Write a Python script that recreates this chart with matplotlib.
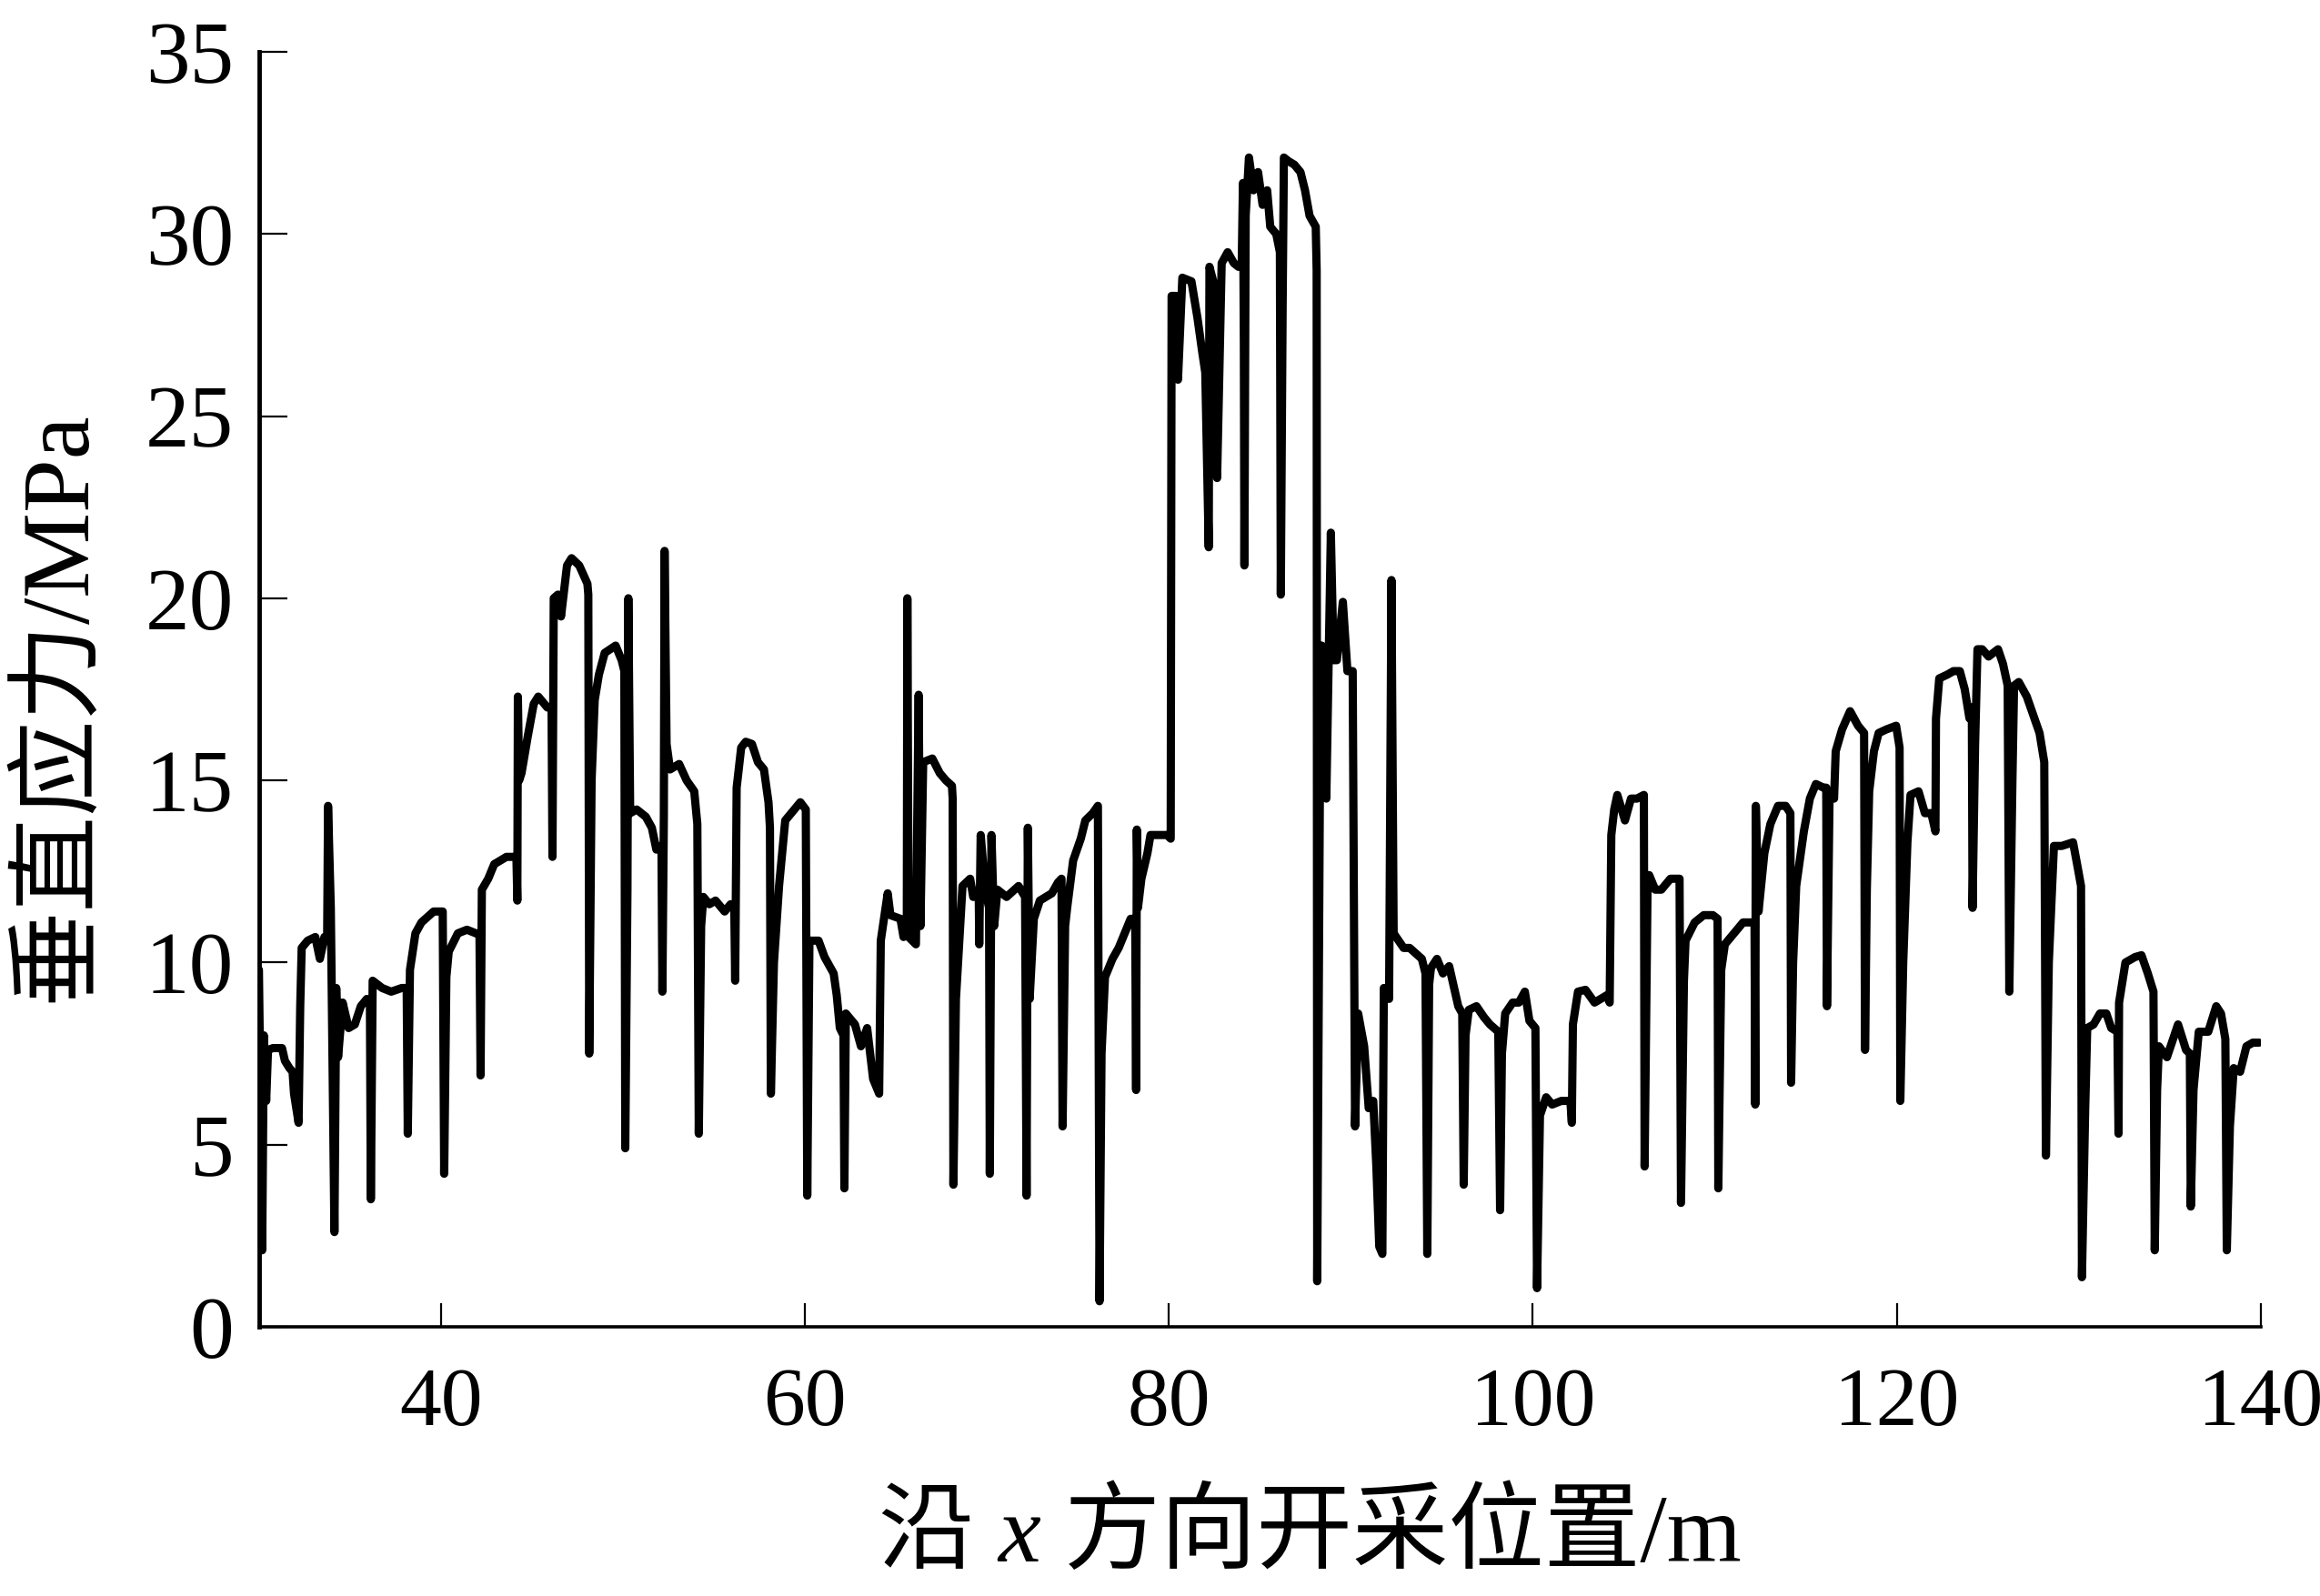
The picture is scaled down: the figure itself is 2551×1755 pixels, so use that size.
import matplotlib
matplotlib.use("Agg")
import matplotlib.pyplot as plt
from matplotlib.offsetbox import TextArea, HPacker, AnchoredOffsetbox

# Mining position along x (m) and vertical stress (MPa)
position_m = [
    30.0, 30.08, 30.18, 30.27, 30.4, 30.5, 30.77, 31.27, 31.43, 31.68,
    31.85, 31.93, 32.18, 32.27, 32.35, 32.68, 33.1, 33.35, 33.6, 33.75,
    33.8, 33.95, 34.15, 34.25, 34.35, 34.6, 34.93, 35.27, 35.6, 35.93,
    36.1, 36.15, 36.25, 36.77, 37.27, 37.85, 38.12, 38.18, 38.3, 38.6,
    38.93, 39.6, 40.1, 40.18, 40.3, 40.43, 40.93, 41.43, 41.93, 42.12,
    42.18, 42.25, 42.6, 42.93, 43.6, 43.93, 44.15, 44.2, 44.23, 44.3,
    44.43, 44.77, 45.1, 45.35, 45.85, 46.08, 46.13, 46.2, 46.43, 46.6,
    46.93, 47.18, 47.6, 48.05, 48.1, 48.15, 48.28, 48.45, 48.68, 49.0,
    49.6, 49.93, 50.08, 50.13, 50.25, 50.3, 50.4, 50.76, 51.26, 51.59,
    51.84, 52.12, 52.17, 52.25, 52.29, 52.4, 52.59, 53.09, 53.5, 53.92,
    54.09, 54.17, 54.3, 54.42, 54.75, 55.09, 55.59, 55.92, 56.12, 56.17,
    56.25, 56.5, 56.75, 57.09, 57.42, 57.75, 58.0, 58.08, 58.13, 58.3,
    58.58, 58.92, 59.42, 59.75, 60.05, 60.13, 60.25, 60.75, 61.08, 61.58,
    61.75, 61.92, 62.12, 62.17, 62.25, 62.75, 63.08, 63.42, 63.75, 64.08,
    64.17, 64.55, 64.7, 65.25, 65.42, 65.6, 65.63, 65.7, 66.1, 66.25,
    66.35, 66.5, 67.0, 67.41, 67.75, 68.08, 68.12, 68.16, 68.3, 68.66,
    69.08, 69.25, 69.55, 69.58, 69.66, 69.91, 70.12, 70.16, 70.25, 70.4,
    70.58, 71.08, 71.74, 72.1, 72.18, 72.25, 72.35, 72.58, 72.91, 73.24,
    73.57, 73.91, 74.1, 74.16, 74.3, 74.41, 74.74, 75.16, 75.41, 75.82,
    76.1, 76.19, 76.3, 76.49, 76.9, 77.24, 77.57, 77.9, 78.15, 78.2,
    78.24, 78.3, 78.49, 78.82, 78.99, 79.4, 79.9, 80.1, 80.15, 80.4,
    80.5, 80.74, 81.24, 81.57, 81.82, 82.0, 82.19, 82.23, 82.49, 82.65,
    82.9, 83.23, 83.57, 83.82, 84.0, 84.07, 84.12, 84.15, 84.22, 84.4,
    84.65, 84.9, 85.15, 85.4, 85.57, 85.9, 86.1, 86.15, 86.25, 86.32,
    86.57, 86.9, 87.23, 87.48, 87.73, 88.07, 88.12, 88.15, 88.3, 88.4,
    88.65, 88.9, 89.05, 89.23, 89.56, 89.81, 90.1, 90.23, 90.4, 90.73,
    90.98, 91.23, 91.4, 91.56, 91.73, 91.81, 92.1, 92.23, 92.35, 92.9,
    93.23, 93.9, 94.1, 94.2, 94.3, 94.4, 94.73, 95.06, 95.4, 95.9,
    96.12, 96.2, 96.3, 96.48, 96.9, 97.31, 97.64, 98.1, 98.2, 98.3,
    98.48, 98.89, 99.23, 99.56, 99.81, 100.14, 100.23, 100.39, 100.73, 101.06,
    101.56, 102.06, 102.14, 102.2, 102.48, 102.89, 103.39, 104.06, 104.22, 104.31,
    104.47, 104.64, 105.06, 105.39, 105.72, 106.1, 106.14, 106.3, 106.39, 106.72,
    107.06, 107.56, 108.06, 108.14, 108.3, 108.39, 108.89, 109.39, 109.89, 110.15,
    110.19, 110.35, 110.55, 111.05, 111.55, 111.97, 112.18, 112.22, 112.25, 112.4,
    112.72, 113.05, 113.47, 113.89, 114.15, 114.19, 114.3, 114.47, 114.89, 115.22,
    115.55, 115.97, 116.12, 116.16, 116.3, 116.55, 116.64, 116.99, 117.43, 117.87,
    118.2, 118.25, 118.35, 118.48, 118.74, 119.0, 119.43, 119.96, 120.15, 120.19,
    120.35, 120.58, 120.75, 121.19, 121.54, 121.89, 122.12, 122.15, 122.33, 122.76,
    123.11, 123.46, 123.73, 123.99, 124.12, 124.16, 124.3, 124.43, 124.69, 125.04,
    125.56, 125.83, 126.09, 126.18, 126.35, 126.44, 126.7, 127.14, 127.49, 127.84,
    128.1, 128.19, 128.35, 128.63, 129.06, 129.68, 129.94, 130.12, 130.17, 130.35,
    130.46, 130.81, 131.16, 131.51, 131.78, 132.12, 132.18, 132.21, 132.56, 133.09,
    133.44, 133.79, 134.1, 134.17, 134.3, 134.4, 134.84, 135.45, 135.89, 136.1,
    136.15, 136.3, 136.59, 137.11, 137.55, 137.81, 138.05, 138.13, 138.3, 138.51,
    138.86, 139.21, 139.56, 139.9,
]

stress_mpa = [
    9.8, 6.5, 2.1, 8.0, 6.2, 7.6, 7.65, 7.65, 7.3, 7.1,
    7.0, 6.4, 5.6, 8.8, 10.4, 10.6, 10.7, 10.1, 10.7, 10.7,
    14.3, 11.5, 2.6, 9.3, 7.4, 8.9, 8.2, 8.3, 8.8, 9.0,
    8.9, 3.5, 9.5, 9.3, 9.2, 9.3, 9.3, 5.3, 9.8, 10.8,
    11.1, 11.4, 11.4, 4.2, 9.6, 10.3, 10.8, 10.9, 10.8, 10.8,
    6.9, 12.0, 12.3, 12.7, 12.9, 12.9, 12.9, 11.7, 17.3, 15.0,
    15.2, 16.2, 17.1, 17.3, 17.0, 17.0, 12.9, 20.0, 20.1, 19.5,
    20.9, 21.1, 20.9, 20.4, 20.1, 7.5, 15.0, 17.2, 17.9, 18.5,
    18.7, 18.3, 18.0, 4.9, 12.0, 20.0, 14.1, 14.2, 14.0, 13.7,
    13.1, 13.2, 9.2, 14.0, 21.3, 16.0, 15.3, 15.45, 15.0, 14.7,
    13.8, 5.3, 11.0, 11.8, 11.6, 11.7, 11.4, 11.6, 11.5, 9.5,
    14.8, 15.9, 16.06, 16.0, 15.5, 15.3, 14.4, 13.7, 6.4, 10.0,
    12.1, 13.9, 14.2, 14.4, 14.2, 3.6, 10.6, 10.6, 10.15, 9.7,
    9.1, 8.2, 8.0, 3.8, 8.6, 8.3, 7.7, 8.2, 6.8, 6.4,
    10.6, 11.9, 11.3, 11.2, 10.7, 11.0, 20.0, 10.7, 10.5, 17.35,
    11.0, 15.5, 15.6, 15.2, 15.0, 14.85, 14.5, 3.9, 9.0, 12.1,
    12.3, 11.8, 12.0, 10.5, 13.5, 12.0, 11.5, 4.2, 13.5, 11.0,
    12.0, 11.8, 12.1, 11.8, 3.6, 13.7, 9.0, 11.2, 11.7, 11.8,
    11.9, 12.2, 12.3, 5.5, 11.0, 11.5, 12.8, 13.4, 13.9, 14.1,
    14.3, 0.7, 7.5, 9.6, 10.1, 10.4, 10.8, 11.2, 11.2, 6.5,
    13.65, 11.5, 12.3, 13.0, 13.5, 13.5, 13.5, 13.4, 28.3, 28.3,
    26.0, 28.8, 28.7, 27.7, 26.8, 26.2, 21.4, 29.1, 28.6, 23.3,
    29.2, 29.5, 29.2, 29.1, 29.1, 31.4, 27.0, 20.9, 30.5, 32.1,
    31.2, 31.7, 30.8, 31.2, 30.2, 30.0, 29.5, 20.1, 28.0, 32.1,
    32.0, 31.9, 31.7, 31.2, 30.5, 30.2, 29.0, 1.25, 15.0, 18.7,
    14.5, 21.8, 18.3, 18.3, 19.9, 18.0, 18.0, 5.5, 8.6, 7.7,
    6.0, 6.2, 4.4, 2.2, 2.0, 9.3, 9.0, 20.5, 10.8, 10.4,
    10.4, 10.1, 9.7, 2.0, 9.4, 9.85, 10.1, 9.7, 9.9, 8.8,
    8.6, 3.9, 8.0, 8.7, 8.8, 8.5, 8.3, 8.1, 3.2, 7.5,
    8.6, 8.9, 8.9, 9.2, 8.4, 8.2, 1.06, 5.8, 6.3, 6.1,
    6.2, 6.2, 5.6, 8.3, 9.2, 9.25, 8.9, 9.1, 8.9, 13.5,
    14.2, 14.6, 13.9, 14.5, 14.5, 14.6, 4.4, 12.0, 12.4, 12.0,
    12.0, 12.3, 12.3, 3.4, 9.5, 10.6, 11.1, 11.3, 11.3, 11.2,
    3.8, 9.8, 10.5, 10.8, 11.1, 11.1, 11.1, 6.1, 14.3, 11.4,
    13.0, 13.8, 14.3, 14.3, 14.1, 6.7, 10.0, 12.1, 13.6, 14.5,
    14.9, 14.8, 14.8, 8.8, 14.5, 14.5, 15.8, 16.4, 16.9, 16.5,
    16.3, 7.6, 12.0, 14.7, 15.8, 16.3, 16.4, 16.5, 15.9, 6.2,
    10.0, 13.3, 14.6, 14.7, 14.1, 14.1, 13.6, 16.7, 17.8, 17.9,
    18.0, 18.0, 17.5, 16.7, 17.0, 11.5, 16.0, 18.6, 18.6, 18.4,
    18.6, 18.2, 17.6, 9.2, 15.0, 17.6, 17.7, 17.3, 16.8, 16.3,
    15.5, 4.7, 10.0, 13.2, 13.2, 13.3, 12.6, 12.1, 1.36, 6.0,
    8.2, 8.3, 8.6, 8.6, 8.2, 8.1, 5.3, 8.9, 10.0, 10.15,
    10.2, 9.7, 9.2, 2.1, 6.5, 7.7, 7.4, 8.3, 7.6, 7.5,
    3.3, 6.5, 8.1, 8.1, 8.8, 8.6, 7.9, 2.1, 5.5, 7.1,
    7.0, 7.7, 7.8, 7.8,
]

x_ticks = [40, 60, 80, 100, 120, 140]
y_ticks = [0, 5, 10, 15, 20, 25, 30, 35]
x_label_parts = ["沿 ", "x", " 方向开采位置/m"]
y_label = "垂直应力/MPa"

FAMILY = ['Liberation Serif', 'Noto Sans CJK SC']
plt.rcParams['font.family'] = FAMILY

fig = plt.figure(figsize=(25.51, 17.55), dpi=100)
ax = fig.add_axes([0.1116, 0.1687, 0.9745 - 0.1116, 0.9675 - 0.1687])

ax.plot(position_m, stress_mpa, color='black', linewidth=6.5,
        solid_joinstyle='round', solid_capstyle='round')

ax.set_xlim(30, 140)
ax.set_ylim(0, 35)
ax.set_xticks(x_ticks)
ax.set_yticks(y_ticks)

for s in ['top', 'right']:
    ax.spines[s].set_visible(False)
ax.spines['left'].set_linewidth(3.5)
ax.spines['bottom'].set_linewidth(2.6)

ax.tick_params(axis='y', direction='in', length=22, width=1.6, pad=20,
               labelsize=70)
ax.tick_params(axis='x', direction='in', length=19, width=1.6, pad=32,
               labelsize=66)

# x label: CJK text with an italic x
lab_size = 76
parts = [
    TextArea(x_label_parts[0], textprops=dict(fontsize=lab_size, family=FAMILY)),
    TextArea(x_label_parts[1], textprops=dict(fontsize=lab_size, family='Liberation Serif',
                                              style='italic')),
    TextArea(x_label_parts[2], textprops=dict(fontsize=lab_size, family=FAMILY)),
]
packed = HPacker(children=parts, align='baseline', pad=0, sep=0)
xlab = AnchoredOffsetbox(loc='center', child=packed, pad=0, borderpad=0,
                         frameon=False, bbox_to_anchor=(0.525, -0.165),
                         bbox_transform=ax.transAxes)
ax.add_artist(xlab)

ax.set_ylabel(y_label, fontsize=lab_size)
ax.yaxis.set_label_coords(-0.0995, 0.487)
ax.yaxis.label.set_va('center')

fig.savefig('out.png', dpi=100)
